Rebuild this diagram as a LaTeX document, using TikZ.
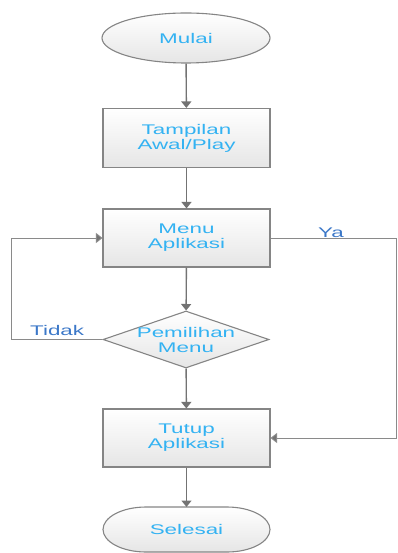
\documentclass[tikz,border=0pt]{standalone}
\usepackage{fontspec}
\setmainfont{Liberation Sans}[FakeStretch=1.6]
\usetikzlibrary{shapes.geometric,arrows.meta}
\definecolor{txtblue}{HTML}{33B2F2}
\definecolor{lblblue}{HTML}{3C78C8}
\definecolor{edge}{HTML}{858585}
\definecolor{wire}{HTML}{737373}
\definecolor{loopwire}{HTML}{8A8A8A}
\tikzset{
  shade box/.style={draw=edge, line width=1.1pt, top color=white, bottom color=black!10, shading angle=0},
  procbox/.style={shade box, rectangle, minimum width=167pt, minimum height=59pt, inner sep=0pt},
  btext/.style={text=txtblue, font=\fontsize{14}{15}\selectfont, align=center, inner sep=0pt},
  lbl/.style={text=lblblue, font=\fontsize{14}{15}\selectfont, inner sep=0pt},
  flow/.style={draw=wire, line width=1.4pt, -{Triangle[width=10pt,length=6.5pt]}},
  loopflow/.style={draw=loopwire, line width=1pt, -{Triangle[width=10pt,length=6.5pt,fill=wire]}},
}
\begin{document}
\begin{tikzpicture}[x=1pt,y=1pt]
\useasboundingbox (0,0) rectangle (397,-553);
% start terminal
\node[shade box, ellipse, minimum width=168pt, minimum height=50pt, inner sep=0pt] (mulai) at (186,-38) {};
\node[btext] at (mulai) {Mulai};
% process boxes
\node[procbox] (awal) at (186.5,-138) {};
\node[btext] at (awal) {Tampilan\\Awal/Play};
\node[procbox, minimum height=58pt] (menu) at (186.5,-238) {};
\node[btext] at (menu) {Menu\\Aplikasi};
% decision
\node[shade box, diamond, minimum width=166pt, minimum height=57pt, inner sep=0pt] (pilih) at (186,-339.5) {};
\node[btext] at (pilih) {Pemilihan\\Menu};
\node[procbox, minimum height=58pt] (tutup) at (186.5,-438) {};
\node[btext] at (tutup) {Tutup\\Aplikasi};
% end terminal with elliptic ends
\coordinate (selesai) at (186.5,-529.5);
\path[shade box] (146,-507) -- (227,-507)
  arc[start angle=90, end angle=-90, x radius=43, y radius=22.5]
  -- (146,-552)
  arc[start angle=270, end angle=90, x radius=43, y radius=22.5] -- cycle;
\node[btext] (selesaitxt) at (selesai) {Selesai};
% main flow
\draw[flow] (mulai) -- (awal);
\draw[flow] (awal) -- (menu);
\draw[flow] (menu) -- (pilih);
\draw[flow] (pilih) -- (tutup);
\draw[flow] (tutup.south) -- (186.5,-507);
% loop back on "Tidak"
\coordinate (lft) at (11,0);
\draw[loopflow] (pilih.west) -- (pilih.west -| lft) -- (menu.west -| lft) -- (menu.west);
\node[lbl, anchor=base west] (tidak) at (30,-335) {Tidak};
% branch on "Ya"
\coordinate (rgt) at (396,0);
\draw[loopflow] (menu.east) -- (menu.east -| rgt) -- (tutup.east -| rgt) -- (tutup.east);
\node[lbl, anchor=base west] (ya) at (318,-237) {Ya};
\end{tikzpicture}
\end{document}
